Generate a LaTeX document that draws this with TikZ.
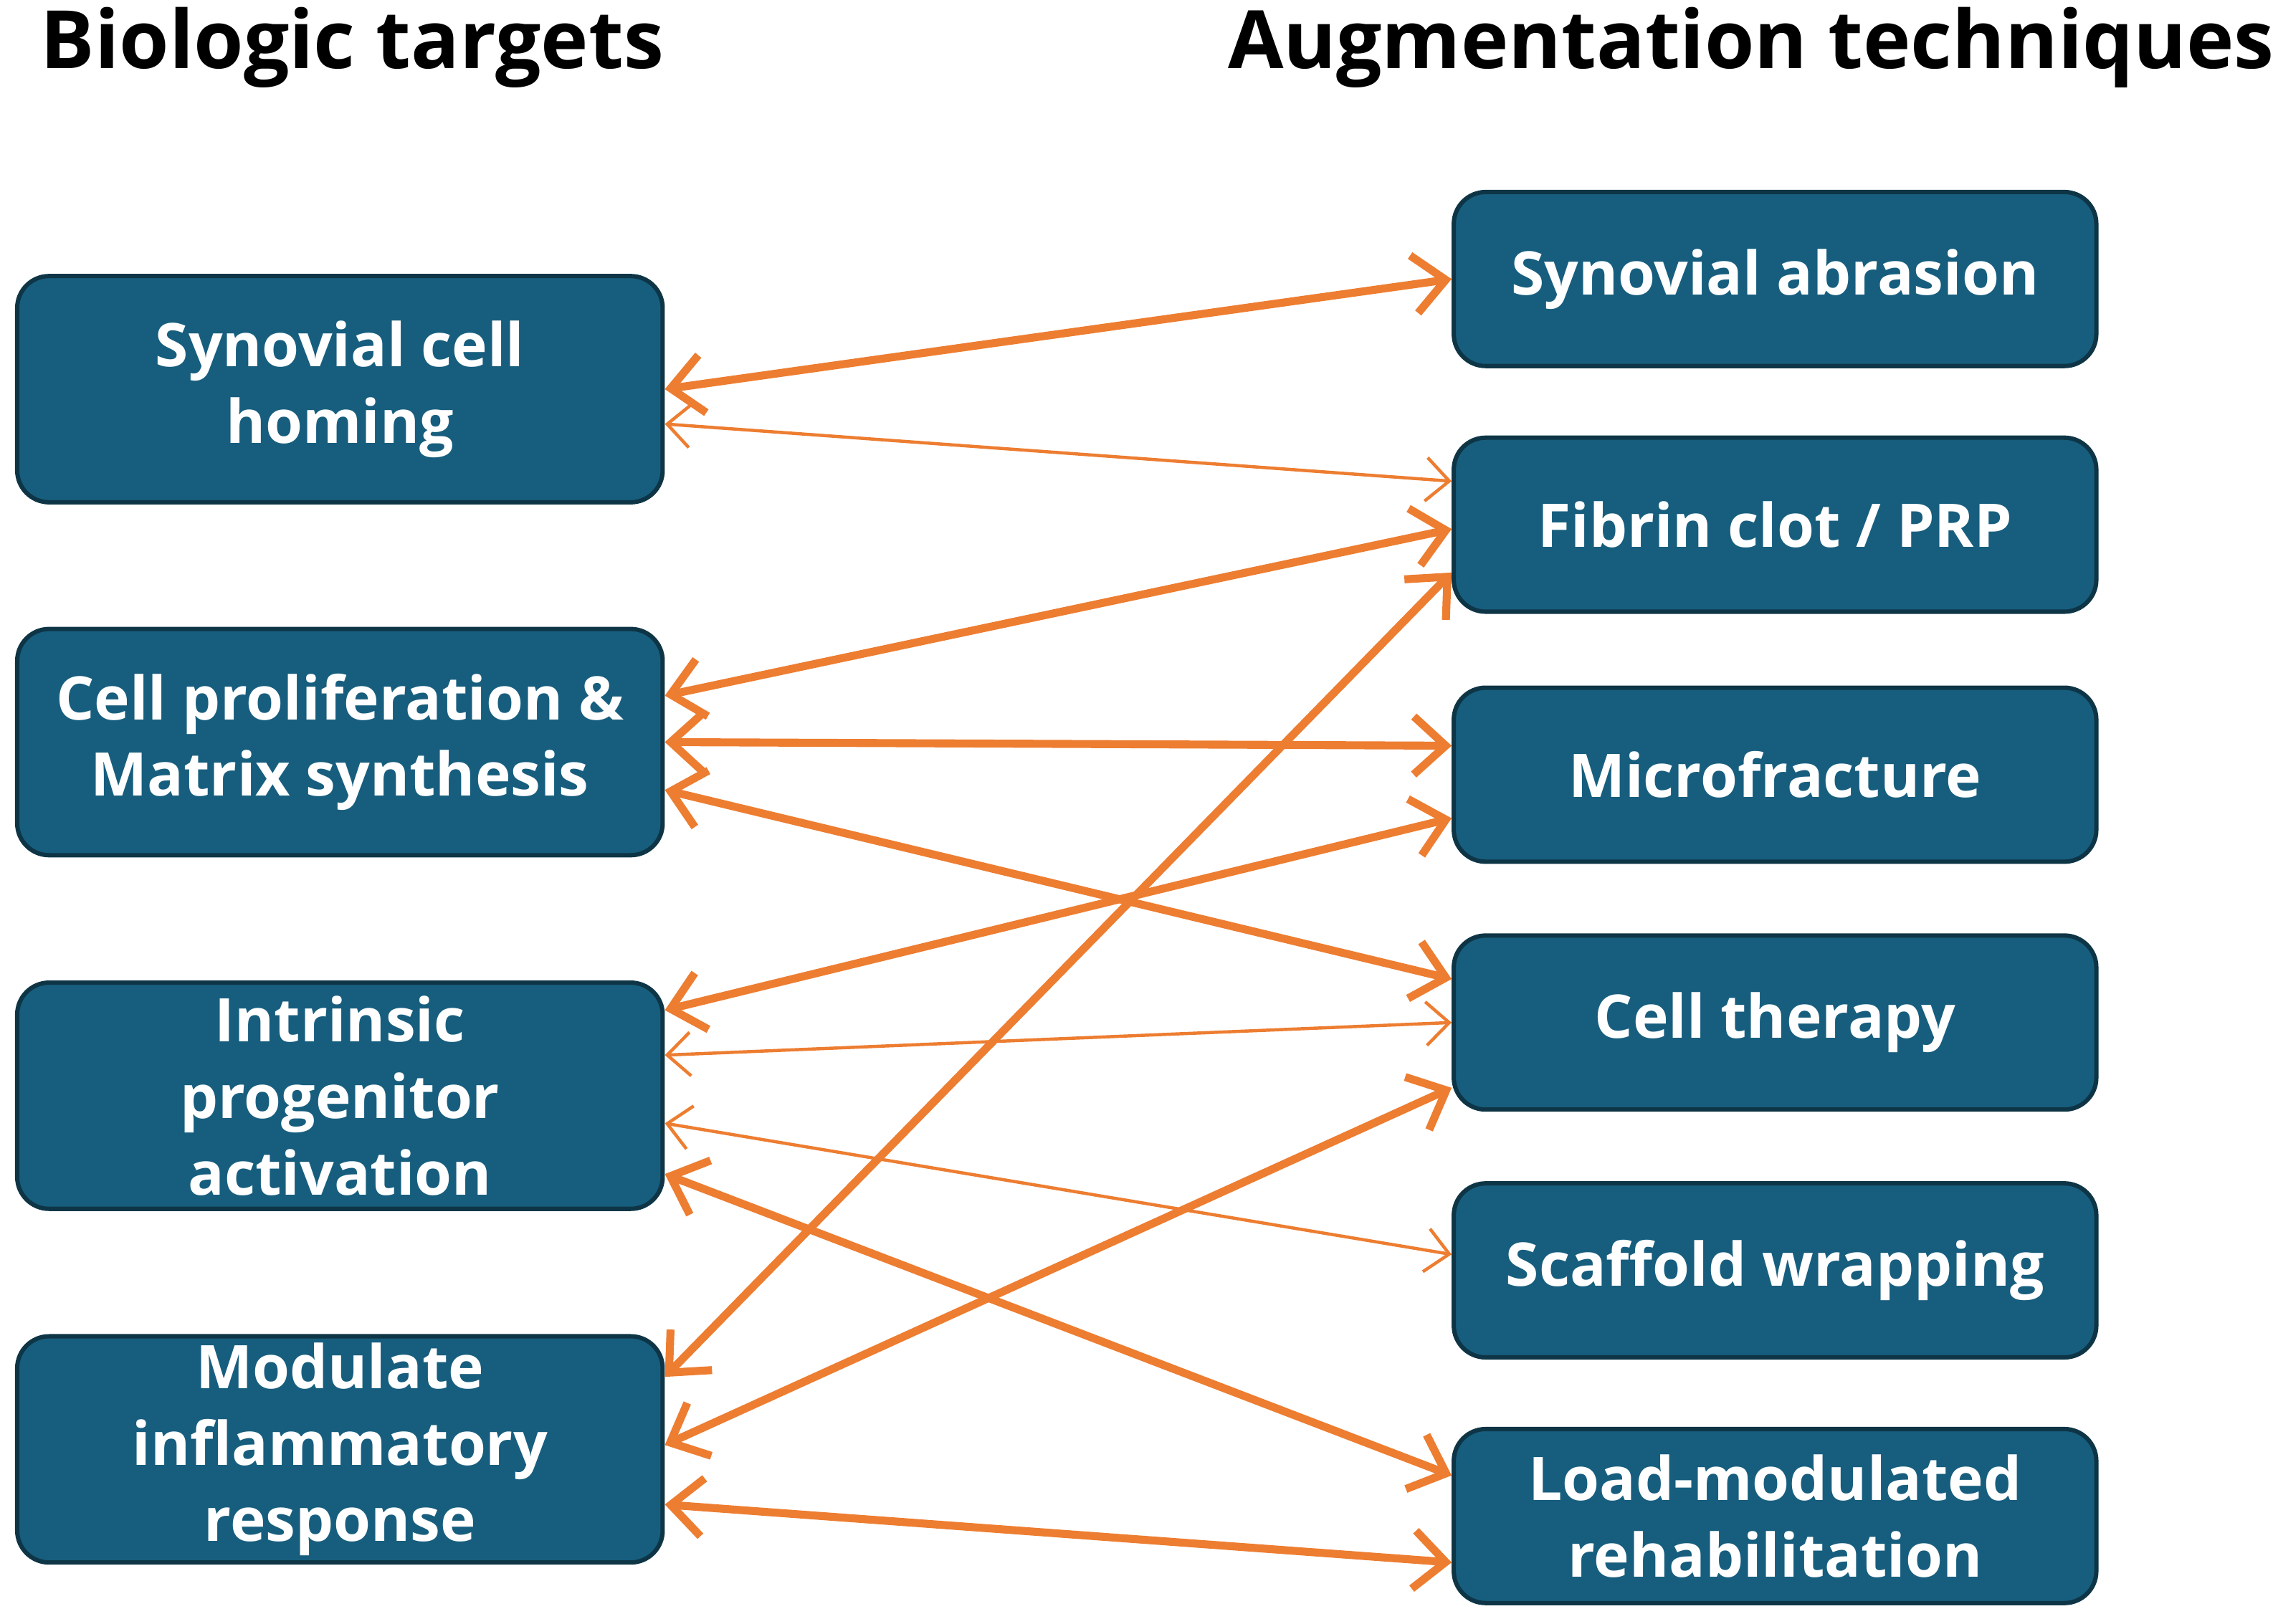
\documentclass[tikz,border=0pt]{standalone}
\usepackage{fontspec}
\setmainfont{Open Sans}
\usetikzlibrary{arrows.meta}
\definecolor{boxfill}{HTML}{175E7E}
\definecolor{boxline}{HTML}{0E3546}
\definecolor{arr}{HTML}{ED7D31}
\begin{document}
\begin{tikzpicture}[x=0.01cm,y=-0.01cm,
  box/.style={draw=boxline,line width=0.3mm,fill=boxfill,rounded corners=2.2mm,text=white,
    font=\fontsize{11.8}{15}\selectfont\bfseries,align=center,inner sep=0pt},
  lbox/.style={box,minimum width=4.45cm,minimum height=1.56cm},
  rbox/.style={box,minimum width=4.43cm,minimum height=1.2cm},
  thk/.style={draw=arr,line width=0.55mm,{Straight Barb[length=2.2mm,width=4mm]}-{Straight Barb[length=2.2mm,width=4mm]}},
  thn/.style={draw=arr,line width=0.22mm,{Straight Barb[length=1.6mm,width=3mm]}-{Straight Barb[length=1.6mm,width=3mm]}},
  title/.style={font=\fontsize{15.8}{20}\selectfont\bfseries}]
\useasboundingbox (0,0) rectangle (1568,1120);
\node[title] (t1) at (243,33) {Biologic targets};
\node[title] (t2) at (1208,33) {Augmentation techniques};
\node[lbox] (L1) at (234.5,268.5) {Synovial cell\\homing};
\node[lbox] (L2) at (234.5,512) {Cell proliferation \&\\Matrix synthesis};
\node[lbox] (L3) at (234.5,756) {Intrinsic\\progenitor\\activation};
\node[lbox] (L4) at (234.5,1000) {Modulate\\inflammatory\\response};
\node[rbox] (R1) at (1224.5,192.5) {Synovial abrasion};
\node[rbox] (R2) at (1224.5,362) {Fibrin clot / PRP};
\node[rbox] (R3) at (1224.5,534.5) {Microfracture};
\node[rbox] (R4) at (1224.5,705.5) {Cell therapy};
\node[rbox] (R5) at (1224.5,876.5) {Scaffold wrapping};
\node[rbox] (R6) at (1224.5,1046) {Load-modulated\\rehabilitation};
\draw[thk] (L1.east) -- (R1.west);
\draw[thn] ([yshift=-0.24cm]L1.east) -- ([yshift=0.3cm]R2.west);
\draw[thk] ([yshift=0.32cm]L2.east) -- ([yshift=-0.03cm]R2.west);
\draw[thk] (L2.east) -- ([yshift=0.2cm]R3.west);
\draw[thk] ([yshift=-0.33cm]L2.east) -- ([yshift=0.3cm]R4.west);
\draw[thk] ([yshift=0.59cm]L3.east) -- ([yshift=-0.3cm]R3.west);
\draw[thn] ([yshift=0.28cm]L3.east) -- (R4.west);
\draw[thn] ([yshift=-0.19cm]L3.east) -- ([yshift=0.11cm]R5.west);
\draw[thk] ([yshift=-0.54cm]L3.east) -- ([yshift=0.28cm]R6.west);
\draw[thk] ([yshift=0.5cm]L4.east) -- ([yshift=-0.33cm]R2.west);
\draw[thk] ([yshift=0.03cm]L4.east) -- ([yshift=-0.45cm]R4.west);
\draw[thk] ([yshift=-0.38cm]L4.east) -- ([yshift=-0.32cm]R6.west);
\end{tikzpicture}
\end{document}
